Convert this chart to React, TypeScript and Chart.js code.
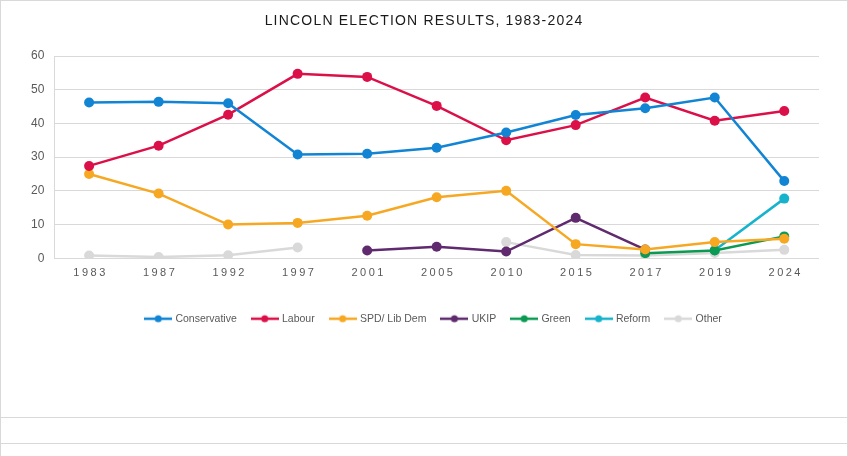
import { useEffect, useRef } from 'react'
import { Chart, registerables, type ChartConfiguration } from 'chart.js'

Chart.register(...registerables)

const years = ['1983', '1987', '1992', '1997', '2001', '2005', '2010', '2015', '2017', '2019', '2024']

const conservative = [46.2, 46.4, 46.0, 30.8, 31.0, 32.8, 37.3, 42.5, 44.5, 47.7, 22.9]
const labour = [27.4, 33.4, 42.6, 54.7, 53.8, 45.2, 35.0, 39.5, 47.7, 40.8, 43.7]
const libDem = [25.0, 19.2, 10.0, 10.5, 12.6, 18.1, 20.0, 4.2, 2.6, 4.8, 5.8]
const ukip = [null, null, null, null, 2.3, 3.4, 2.0, 12.0, 2.6, null, null]
const green = [null, null, null, null, null, null, null, null, 1.5, 2.3, 6.5]
const reform = [null, null, null, null, null, null, null, null, null, 2.4, 17.7]
const other = [0.8, 0.4, 0.9, 3.2, null, null, 4.8, 1.0, 0.8, 1.6, 2.5]

const seriesNames = ['Conservative', 'Labour', 'SPD/ Lib Dem', 'UKIP', 'Green', 'Reform', 'Other']
const seriesData = [conservative, labour, libDem, ukip, green, reform, other]
const seriesColors = ['#1284d4', '#dc1048', '#f7a823', '#5f2a6e', '#0b9a52', '#17b3cc', '#d9d9d9']

const yTicks = [0, 10, 20, 30, 40, 50, 60]

const tickFont = '"Liberation Sans", Arial, sans-serif'

// small line + dot swatch for the legend
function legendSwatch(color: string) {
  const c = document.createElement('canvas')
  c.width = 28
  c.height = 10
  const g = c.getContext('2d')
  if (g) {
    g.strokeStyle = color
    g.lineWidth = 2.5
    g.beginPath()
    g.moveTo(0, 5)
    g.lineTo(28, 5)
    g.stroke()
    g.fillStyle = color
    g.beginPath()
    g.arc(14, 5, 3.5, 0, Math.PI * 2)
    g.fill()
  }
  return c
}

const spacedXLabels = {
  id: 'spacedXLabels',
  afterLayout(chart: Chart) {
    // legend sits a bit right of centre in the original
    const lg: any = chart.legend
    if (lg) {
      lg.left += 14
      lg.right += 14
    }
  },
  beforeDraw(chart: Chart) {
    const xs: any = chart.scales.x
    if (!xs || xs._spaced) return
    const orig = xs.drawLabels
    xs.drawLabels = function (area: any) {
      const ctx: any = chart.ctx
      ctx.save()
      ctx.letterSpacing = '2.5px'
      ctx.translate(1.5, 0)
      orig.call(this, area)
      ctx.restore()
    }
    xs._spaced = true
  },
}

function ElectionChart() {
  const canvasRef = useRef<HTMLCanvasElement | null>(null)
  const chartRef = useRef<Chart<'line'> | null>(null)

  useEffect(() => {
    document.body.style.margin = '0'
    const canvas = canvasRef.current
    if (!canvas) return
    const context = canvas.getContext('2d')
    if (!context) return
    chartRef.current?.destroy()

    const swatches = seriesColors.map(legendSwatch)

    const config: ChartConfiguration<'line'> = {
      type: 'line',
      data: {
        labels: years,
        datasets: seriesNames.map((name, i) => ({
          label: name,
          data: seriesData[i],
          borderColor: seriesColors[i],
          backgroundColor: seriesColors[i],
          pointBackgroundColor: seriesColors[i],
          pointBorderColor: seriesColors[i],
          pointRadius: 5,
          pointBorderWidth: 0,
          borderWidth: 2.5,
          tension: 0,
          spanGaps: false,
        })),
      },
      options: {
        responsive: false,
        animation: false,
        layout: { padding: { top: 55, left: 20, right: 28, bottom: 12 } },
        plugins: {
          title: { display: false },
          tooltip: { enabled: false },
          legend: {
            position: 'bottom',
            labels: {
              usePointStyle: true,
              pointStyleWidth: 24,
              padding: 16,
              color: '#595959',
              font: { family: tickFont, size: 10.5 },
              generateLabels: (chart: Chart) => {
                const base = Chart.defaults.plugins.legend.labels.generateLabels(chart)
                return base.map((item, i) => ({ ...item, pointStyle: swatches[i] as any }))
              },
            },
          },
        },
        scales: {
          x: {
            offset: true,
            grid: { display: false },
            border: { display: false },
            ticks: {
              color: '#595959',
              padding: 0,
              maxRotation: 0,
              font: { family: tickFont, size: 11 },
            },
            afterFit: (scale: any) => {
              scale.height += 18
            },
          },
          y: {
            min: 0,
            max: 60,
            afterBuildTicks: (scale: any) => {
              scale.ticks = yTicks.map((v) => ({ value: v }))
            },
            grid: { color: '#d9d9d9', lineWidth: 1, drawTicks: false },
            border: { display: true, color: '#d9d9d9' },
            ticks: {
              color: '#595959',
              padding: 10,
              font: { family: tickFont, size: 12 },
            },
          },
        },
      },
      plugins: [spacedXLabels],
    }

    chartRef.current = new Chart(context, config)
    return () => {
      chartRef.current?.destroy()
      chartRef.current = null
    }
  }, [])

  return (
    <div style={{ width: 848, height: 456, boxSizing: 'border-box', background: '#fff' }}>
      <div
        style={{
          position: 'relative',
          width: 848,
          height: 418,
          boxSizing: 'border-box',
          border: '1px solid #d9d9d9',
        }}
      >
        <div
          style={{
            position: 'absolute',
            top: 11,
            left: 0,
            width: '100%',
            textAlign: 'center',
            fontFamily: tickFont,
            fontSize: 14,
            letterSpacing: '1.2px',
            color: '#1a1a1a',
          }}
        >
          LINCOLN ELECTION RESULTS, 1983-2024
        </div>
        <canvas ref={canvasRef} width={846} height={345} aria-label="Lincoln election results line chart" role="img" />
      </div>
      <div style={{ height: 26, boxSizing: 'border-box', borderLeft: '1px solid #d9d9d9', borderRight: '1px solid #d9d9d9', borderBottom: '1px solid #d9d9d9' }} />
      <div style={{ height: 12, boxSizing: 'border-box', borderLeft: '1px solid #d9d9d9', borderRight: '1px solid #d9d9d9' }} />
    </div>
  )
}

export default function App() {
  return <ElectionChart />
}
